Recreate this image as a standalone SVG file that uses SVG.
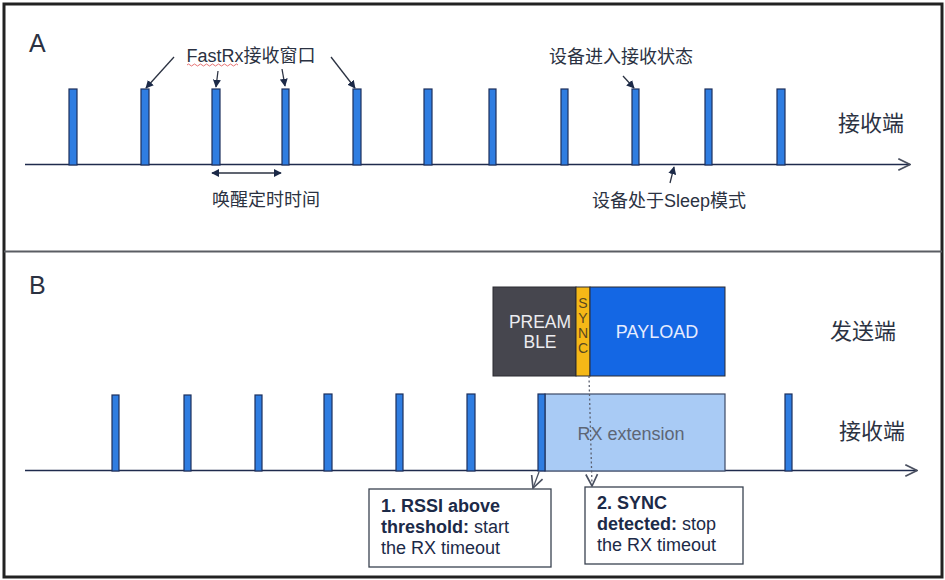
<svg xmlns="http://www.w3.org/2000/svg" width="945" height="580" viewBox="0 0 945 580">
<defs>
<style>
.t{font-family:"Liberation Sans","Noto Sans CJK SC",sans-serif;fill:#2b3242}
.bar{fill:#2f7de1;stroke:#1d2f5c;stroke-width:1.2}
.axis{stroke:#1f2b4d;stroke-width:1.5;fill:none}
.ann{stroke:#2b3242;stroke-width:1.3;fill:none}
.bx{fill:#fff;stroke:#3a4250;stroke-width:1.3}
.bt{font-family:"Liberation Sans",sans-serif;font-size:18px;fill:#1c2a48}
</style>
<marker id="fa" viewBox="0 0 10 10" refX="9" refY="5" markerWidth="8" markerHeight="8" orient="auto-start-reverse" markerUnits="userSpaceOnUse">
<path d="M0,0 L10,5 L0,10 Z" fill="#1c2a48"/>
</marker>
<marker id="oa" viewBox="0 0 12 12" refX="11" refY="6" markerWidth="14" markerHeight="14" orient="auto" markerUnits="userSpaceOnUse">
<path d="M1,1 L11,6 L1,11" fill="none" stroke="#4a5060" stroke-width="1.4"/>
</marker>
</defs>
<rect x="0" y="0" width="945" height="580" fill="#fff"/>
<rect x="4" y="4" width="938" height="573" fill="none" stroke="#222" stroke-width="3"/>
<line x1="4" y1="251.5" x2="942" y2="251.5" stroke="#5a5d63" stroke-width="2"/>

<g id="sectionA">
<text class="t" x="29" y="52" font-size="25">A</text>
<line class="axis" x1="25" y1="164.5" x2="910" y2="164.5" marker-end="url(#oa)"/>
<g id="barsA">
<rect class="bar" x="69" y="89" width="8" height="76"/>
<rect class="bar" x="141" y="89" width="8" height="76"/>
<rect class="bar" x="212" y="89" width="8" height="76"/>
<rect class="bar" x="282" y="89" width="7" height="76"/>
<rect class="bar" x="353" y="89" width="8" height="76"/>
<rect class="bar" x="424" y="89" width="8" height="76"/>
<rect class="bar" x="489" y="89" width="7" height="76"/>
<rect class="bar" x="561" y="89" width="7" height="76"/>
<rect class="bar" x="632" y="89" width="7" height="76"/>
<rect class="bar" x="705" y="89" width="7" height="76"/>
<rect class="bar" x="777" y="89" width="8" height="76"/>
</g>
<g id="labelFastRx">
<text class="t" x="251" y="62" font-size="18" text-anchor="middle">FastRx接收窗口</text>
<path d="M187,65 q1.5,-2 3,0 t3,0 t3,0 t3,0 t3,0 t3,0 t3,0 t3,0 t3,0 t3,0 t3,0 t3,0 t3,0 t3,0 t3,0 t3,0 t3,0" fill="none" stroke="#e05050" stroke-width="0.8"/>
</g>
<text id="labelWake" class="t" x="266" y="206" font-size="18" text-anchor="middle">唤醒定时时间</text>
<text id="labelEnter" class="t" x="621" y="63" font-size="18" text-anchor="middle">设备进入接收状态</text>
<text id="labelSleep" class="t" x="669" y="207" font-size="18" text-anchor="middle">设备处于Sleep模式</text>
<text id="labelRxA" class="t" x="871" y="131" font-size="22" text-anchor="middle">接收端</text>
</g>

<g id="connectorsA">
<line class="ann" x1="174" y1="57" x2="146" y2="88" marker-end="url(#fa)"/>
<line class="ann" x1="218" y1="71" x2="216" y2="87" marker-end="url(#fa)"/>
<line class="ann" x1="282" y1="69" x2="285" y2="86" marker-end="url(#fa)"/>
<line class="ann" x1="331" y1="57" x2="355" y2="88" marker-end="url(#fa)"/>
<line class="ann" x1="623" y1="76" x2="634" y2="88" marker-end="url(#fa)"/>
<line class="ann" x1="670" y1="183" x2="674" y2="167" marker-end="url(#fa)"/>
<line class="ann" x1="212" y1="173" x2="281" y2="173" marker-start="url(#fa)" marker-end="url(#fa)"/>
</g>

<g id="sectionB">
<text class="t" x="29" y="294" font-size="25">B</text>
<line class="axis" x1="25" y1="470.5" x2="917" y2="470.5" marker-end="url(#oa)"/>
<g id="barsB">
<rect class="bar" x="112" y="395" width="7" height="76"/>
<rect class="bar" x="184" y="395" width="7" height="76"/>
<rect class="bar" x="255" y="395" width="7" height="76"/>
<rect class="bar" x="324" y="394" width="8" height="77"/>
<rect class="bar" x="396" y="394" width="7" height="77"/>
<rect class="bar" x="467" y="394" width="8" height="77"/>
<rect class="bar" x="785" y="394" width="7" height="77"/>
</g>
<g id="rxExtension">
<rect x="545" y="394" width="180" height="77" fill="#a9cbf5" stroke="#3c4a66" stroke-width="1.2"/>
<rect class="bar" x="538" y="394" width="7" height="77"/>
<text class="t" x="631" y="440" font-size="18" text-anchor="middle" style="fill:#5d6675">RX extension</text>
</g>
<g id="packet">
<rect x="493" y="287" width="83" height="89" fill="#46464e" stroke="#2a2a30" stroke-width="1"/>
<rect x="576" y="287" width="14" height="89" fill="#f5b817" stroke="#2a2a30" stroke-width="1"/>
<rect x="590" y="287" width="135" height="89" fill="#1467e4" stroke="#2a2a30" stroke-width="1"/>
<text class="t" x="540" y="328" font-size="17.5" text-anchor="middle" style="fill:#ececf0">PREAM</text>
<text class="t" x="540" y="348" font-size="17.5" text-anchor="middle" style="fill:#ececf0">BLE</text>
<g class="t" font-size="14" text-anchor="middle" style="fill:#5a4820">
<text x="583" y="308">S</text>
<text x="583" y="323">Y</text>
<text x="583" y="338">N</text>
<text x="583" y="353">C</text>
</g>
<text class="t" x="657" y="338" font-size="18" text-anchor="middle" style="fill:#e6ecff">PAYLOAD</text>
</g>
<text id="labelTx" class="t" x="863" y="339" font-size="22" text-anchor="middle">发送端</text>
<text id="labelRxB" class="t" x="872" y="439" font-size="22" text-anchor="middle">接收端</text>
<g id="box1">
<rect class="bx" x="369" y="489" width="182" height="78"/>
<text class="bt" x="381" y="512" font-weight="bold">1. RSSI above</text>
<text class="bt" x="381" y="533"><tspan font-weight="bold">threshold:</tspan> start</text>
<text class="bt" x="381" y="554">the RX timeout</text>
</g>
<g id="box2">
<rect class="bx" x="585" y="487" width="158" height="77"/>
<text class="bt" x="597" y="509" font-weight="bold">2. SYNC</text>
<text class="bt" x="597" y="530"><tspan font-weight="bold">detected:</tspan> stop</text>
<text class="bt" x="597" y="551">the RX timeout</text>
</g>
</g>

<g id="connectorsB">
<line x1="539" y1="472" x2="533" y2="488" stroke="#4a5060" stroke-width="1.3" marker-end="url(#oa)"/>
<line x1="589" y1="376" x2="592" y2="486" stroke="#5a6070" stroke-width="1.3" stroke-dasharray="2,2.5" marker-end="url(#oa)"/>
</g>
</svg>
